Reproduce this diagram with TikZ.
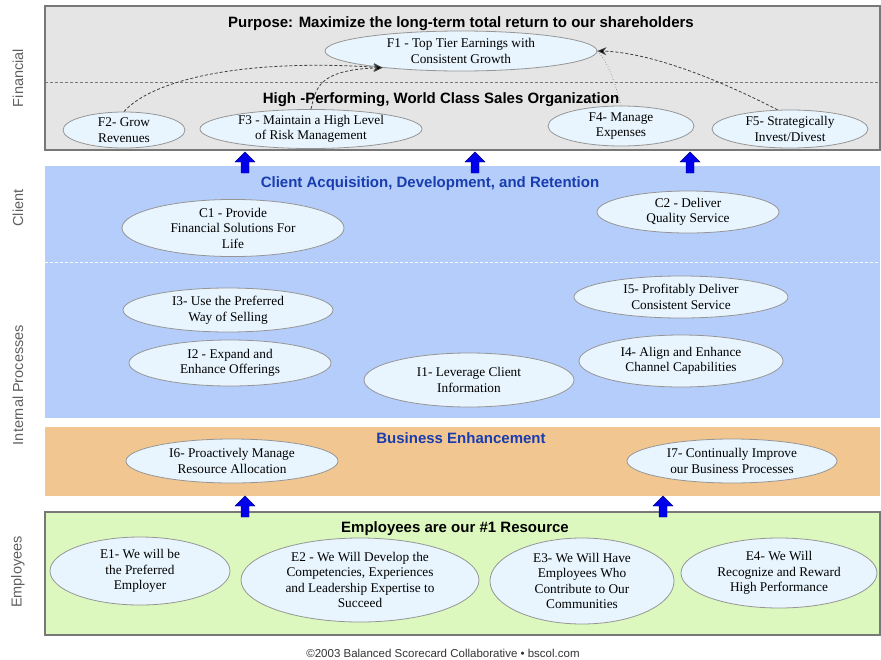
\documentclass[tikz,border=0pt]{standalone}
\usepackage{fontspec}
\setmainfont{Liberation Serif}
\setsansfont{Liberation Sans}
\usetikzlibrary{arrows.meta,shapes.geometric}

\definecolor{finfill}{RGB}{229,229,229}
\definecolor{clientfill}{RGB}{180,205,250}
\definecolor{bizfill}{RGB}{242,198,144}
\definecolor{empfill}{RGB}{220,248,190}
\definecolor{bubble}{RGB}{232,245,254}
\definecolor{bubbleline}{RGB}{150,150,150}
\definecolor{frameline}{RGB}{120,120,120}
\definecolor{headblue}{RGB}{25,60,175}
\definecolor{sidegray}{RGB}{95,95,95}
\definecolor{arrowblue}{RGB}{0,0,235}

\tikzset{
  obj/.style={ellipse, draw=bubbleline, line width=0.8pt, fill=bubble, inner sep=0pt,
    align=center, font=\fontsize{13.3}{15.5}\selectfont},
  bandhead/.style={font=\sffamily\bfseries\fontsize{15}{17}\selectfont, inner sep=0pt, anchor=base},
  sidelabel/.style={rotate=90, font=\sffamily\fontsize{14.5}{16}\selectfont, text=sidegray, inner sep=0pt},
  link/.style={densely dashed, line width=0.8pt, black!75,
    -{Stealth[length=9pt,width=8pt,fill=black]}},
  faintlink/.style={dotted, line width=0.7pt, black!45},
  blockup/.pic={
    \fill[arrowblue, draw=blue!50!black, line width=0.4pt]
      (0,0) -- (10,10) -- (4,10) -- (4,21) -- (-4,21) -- (-4,10) -- (-10,10) -- cycle;
  },
}

\begin{document}
\begin{tikzpicture}[x=1pt,y=-1pt]
\useasboundingbox (0,0) rectangle (881,659);

% ---- bands ----
\fill[finfill] (45,6) rectangle (880,150);
\draw[frameline, line width=1.2pt] (45,6) rectangle (880,150);
\draw[frameline, dashed, dash pattern=on 3pt off 2pt, line width=0.9pt] (45,82) -- (880,82);

\fill[clientfill] (45,166) rectangle (880,418);
\draw[white, dashed, dash pattern=on 3pt off 2pt, line width=0.8pt] (45,262) -- (880,262);

\fill[bizfill] (45,427) rectangle (880,496);

\fill[empfill] (45,512) rectangle (880,635);
\draw[frameline, line width=1.2pt] (45,512) rectangle (880,635);

% ---- side labels ----
\node[sidelabel] (lfin) at (18,78) {Financial};
\node[sidelabel] (lcli) at (18,208) {Client};
\node[sidelabel] (lint) at (18,385) {Internal Processes};
\node[sidelabel] (lemp) at (18,572) {Employees};

% ---- band headings (placed by baseline) ----
\node[bandhead] (hpurpose) at (461,27) {Purpose: Maximize the long-term total return to our shareholders};
\node[bandhead] (hsales) at (441,103) {High -Performing, World Class Sales Organization};
\node[bandhead, text=headblue] (hclient) at (430,187) {Client Acquisition, Development, and Retention};
\node[bandhead, text=headblue] (hbiz) at (461,443) {Business Enhancement};
\node[bandhead] (hemp) at (455,532) {Employees are our \#1 Resource};

% ---- financial objectives ----
\node[obj, minimum width=272pt, minimum height=40pt] (F1) at (461,51) {F1 - Top Tier Earnings with\\Consistent Growth};
\node[obj, minimum width=122pt, minimum height=36pt] (F2) at (124,130) {F2- Grow\\Revenues};
\node[obj, minimum width=222pt, minimum height=35pt] (F3) at (311,129) {F3 - Maintain a High Level\\of Risk Management};
\node[obj, minimum width=146pt, minimum height=40pt] (F4) at (621,126) {F4- Manage\\Expenses};
\node[obj, minimum width=156pt, minimum height=38pt] (F5) at (790,129) {F5- Strategically\\Invest/Divest};

% ---- client objectives ----
\node[obj, minimum width=222pt, minimum height=54pt] (C1) at (233,228) {C1 - Provide\\Financial Solutions For\\Life};
\node[obj, minimum width=182pt, minimum height=42pt] (C2) at (688,212) {C2 - Deliver\\Quality Service};

% ---- internal process objectives ----
\node[obj, minimum width=210pt, minimum height=44pt] (I3) at (228,310) {I3- Use the Preferred\\Way of Selling};
\node[obj, minimum width=202pt, minimum height=46pt] (I2) at (230,363) {I2 - Expand and\\Enhance Offerings};
\node[obj, minimum width=210pt, minimum height=54pt] (I1) at (469,380) {I1- Leverage Client\\Information};
\node[obj, minimum width=214pt, minimum height=42pt] (I5) at (681,297) {I5- Profitably Deliver\\Consistent Service};
\node[obj, minimum width=204pt, minimum height=52pt] (I4) at (681,361) {I4- Align and Enhance\\Channel Capabilities};

% ---- business enhancement objectives ----
\node[obj, minimum width=212pt, minimum height=44pt] (I6) at (232,461) {I6- Proactively Manage\\Resource Allocation};
\node[obj, minimum width=210pt, minimum height=44pt] (I7) at (732,461) {I7- Continually Improve\\our Business Processes};

% ---- employee objectives ----
\node[obj, minimum width=180pt, minimum height=68pt] (E1) at (140,571) {E1- We will be\\the Preferred\\Employer};
\node[obj, minimum width=238pt, minimum height=84pt] (E2) at (360,580) {E2 - We Will Develop the\\Competencies, Experiences\\and Leadership Expertise to\\Succeed};
\node[obj, minimum width=184pt, minimum height=86pt] (E3) at (582,581) {E3- We Will Have\\Employees Who\\Contribute to Our\\Communities};
\node[obj, minimum width=196pt, minimum height=70pt] (E4) at (779,573) {E4- We Will\\Recognize and Reward\\High Performance};

% ---- cause-and-effect links in the financial band ----
\draw[link] (F2.north) .. controls (150,82) and (235,58) .. (F1.192);
\draw[link] (F3.north) .. controls (316,88) and (318,70) .. (F1.192);
\draw[link] (F5.123) .. controls (700,70) and (640,52) .. (F1.east);
\draw[faintlink] (F4.north) .. controls (615,82) and (608,62) .. (F1.east);

% ---- block arrows between bands ----
\pic at (245,152) {blockup};
\pic at (475,152) {blockup};
\pic at (690,152) {blockup};
\pic at (245,496) {blockup};
\pic at (663,496) {blockup};

% ---- footer ----
\node[font=\sffamily\fontsize{11.5}{13}\selectfont, text=black!80, inner sep=0pt] (credit) at (443,653)
  {\textcopyright2003 Balanced Scorecard Collaborative • bscol.com};
\end{tikzpicture}
\end{document}
